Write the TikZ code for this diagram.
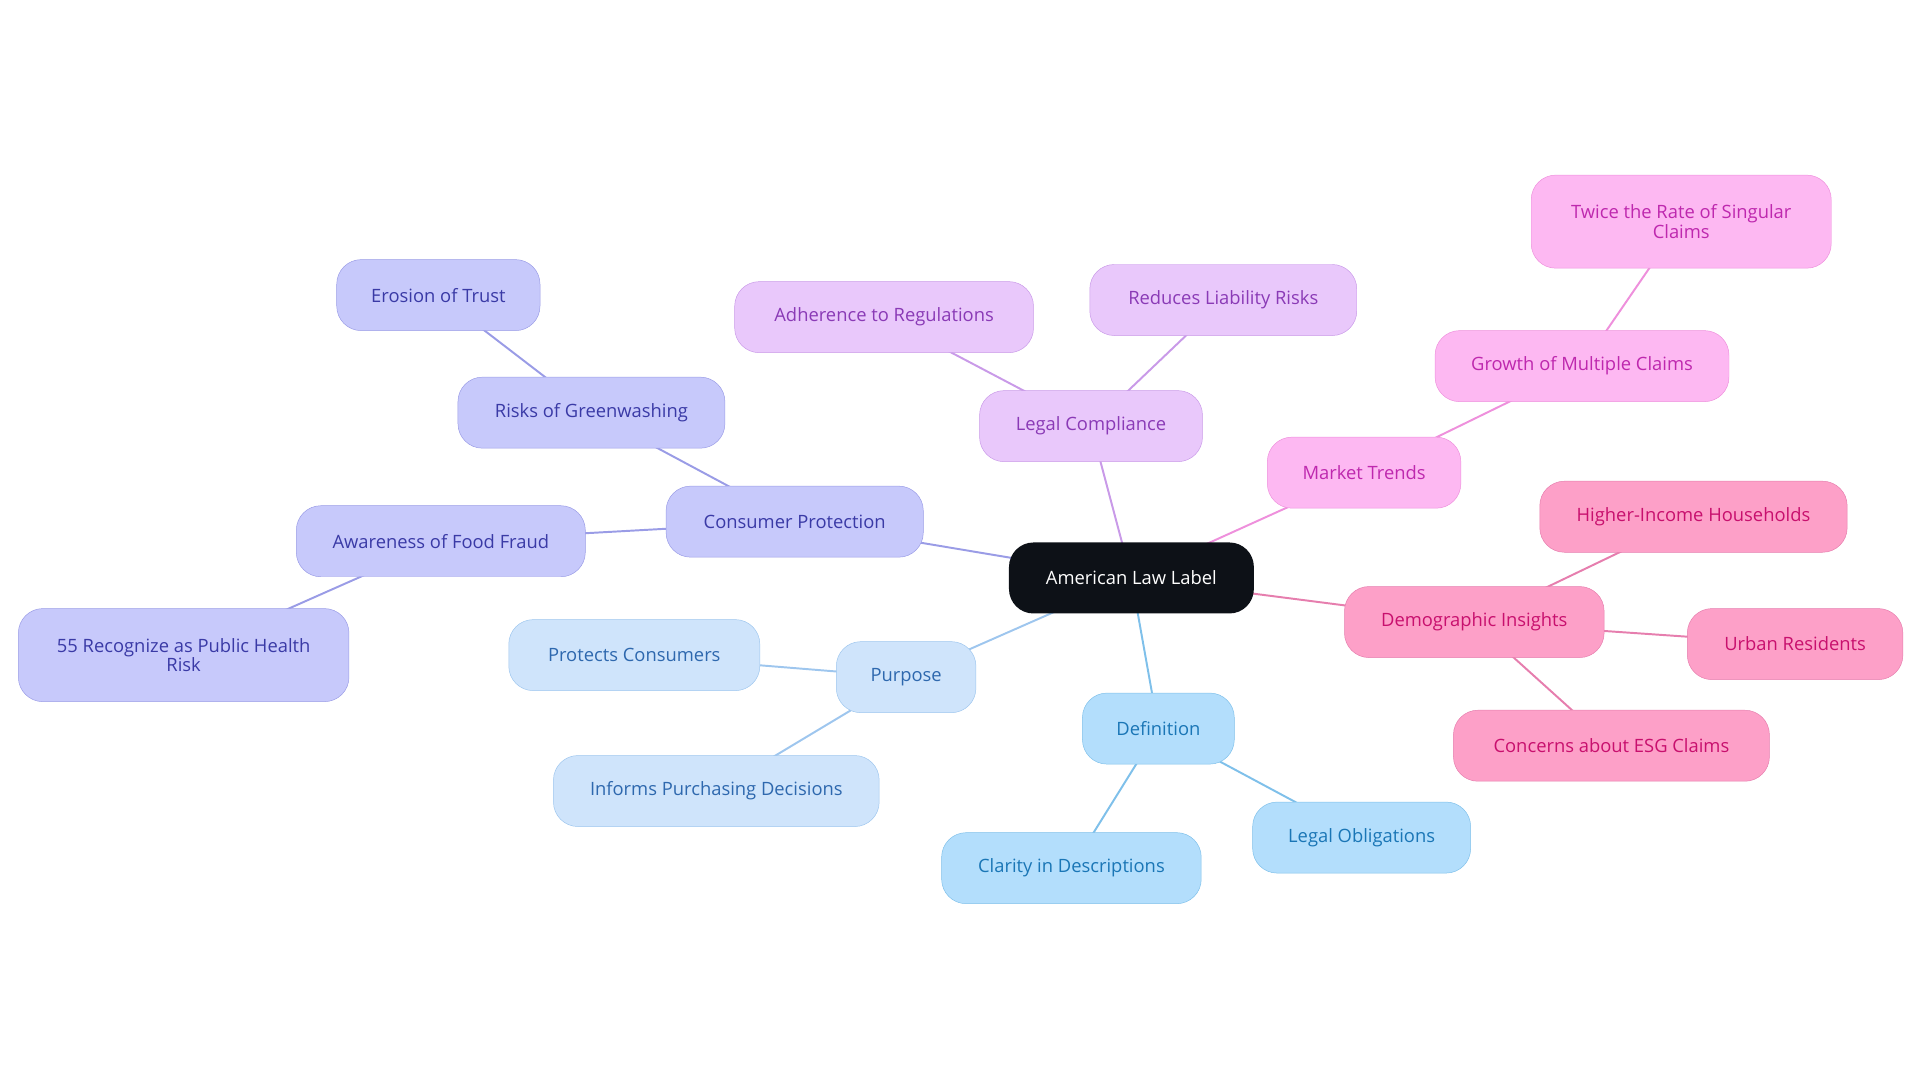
\documentclass[tikz,border=0pt]{standalone}
\usepackage{fontspec}
\setmainfont{Open Sans}
\usetikzlibrary{backgrounds}
\definecolor{rootfill}{HTML}{0D1117}
\definecolor{cpfill}{HTML}{C7C9FB}\definecolor{cpdraw}{HTML}{9A9CE6}\definecolor{cptext}{HTML}{3A3AA6}
\definecolor{pufill}{HTML}{CFE4FB}\definecolor{pudraw}{HTML}{9EC6EE}\definecolor{putext}{HTML}{2E68AE}
\definecolor{defill}{HTML}{B3DEFC}\definecolor{dedraw}{HTML}{7FC0EA}\definecolor{detext}{HTML}{1A76B6}
\definecolor{lcfill}{HTML}{E9C8FB}\definecolor{lcdraw}{HTML}{C99AE8}\definecolor{lctext}{HTML}{8A3AB6}
\definecolor{mtfill}{HTML}{FDB8F2}\definecolor{mtdraw}{HTML}{EE90DC}\definecolor{mttext}{HTML}{BE28AE}
\definecolor{difill}{HTML}{FDA0C8}\definecolor{didraw}{HTML}{E67EAE}\definecolor{ditext}{HTML}{C8106E}
\tikzset{%
  % Specifications for style of nodes:
  base/.style = {rectangle, rounded corners=20pt, minimum height=58pt,
                 text centered, align=center, font=\fontsize{15}{16}\selectfont},
  root/.style = {base, fill=rootfill, text=white},
  cpbox/.style = {base, fill=cpfill, draw=cpdraw, text=cptext},
  pubox/.style = {base, fill=pufill, draw=pudraw, text=putext},
  debox/.style = {base, fill=defill, draw=dedraw, text=detext},
  lcbox/.style = {base, fill=lcfill, draw=lcdraw, text=lctext},
  mtbox/.style = {base, fill=mtfill, draw=mtdraw, text=mttext},
  dibox/.style = {base, fill=difill, draw=didraw, text=ditext},
  edge/.style = {line width=1.6pt},
}
\begin{document}
\begin{tikzpicture}[x=1pt, y=-1pt]
  \useasboundingbox (0,0) rectangle (1568,884);
  % Specification of nodes (position, etc.)
  \node (law)       [root, minimum width=200pt]  at (924,472)  {American Law Label};

  \node (consumer)  [cpbox, minimum width=210pt] at (649,426)  {Consumer Protection};
  \node (greenwash) [cpbox, minimum width=218pt] at (483,337)  {Risks of Greenwashing};
  \node (erosion)   [cpbox, minimum width=166pt] at (358,241)  {Erosion of Trust};
  \node (fraud)     [cpbox, minimum width=236pt] at (360,442)  {Awareness of Food Fraud};
  \node (health)    [cpbox, minimum width=270pt, minimum height=76pt] at (150,535) {55 Recognize as Public Health\\Risk};

  \node (purpose)   [pubox, minimum width=114pt] at (740,553)  {Purpose};
  \node (protects)  [pubox, minimum width=205pt] at (518,535)  {Protects Consumers};
  \node (informs)   [pubox, minimum width=266pt] at (585,646)  {Informs Purchasing Decisions};

  \node (definition)[debox, minimum width=124pt] at (946,595)  {Definition};
  \node (clarity)   [debox, minimum width=212pt] at (875,709)  {Clarity in Descriptions};
  \node (obligation)[debox, minimum width=178pt] at (1112,684) {Legal Obligations};

  \node (compliance)[lcbox, minimum width=182pt] at (891,348)  {Legal Compliance};
  \node (adherence) [lcbox, minimum width=244pt] at (722,259)  {Adherence to Regulations};
  \node (liability) [lcbox, minimum width=218pt] at (999,245)  {Reduces Liability Risks};

  \node (market)    [mtbox, minimum width=158pt] at (1114,386) {Market Trends};
  \node (growth)    [mtbox, minimum width=240pt] at (1292,299) {Growth of Multiple Claims};
  \node (twice)     [mtbox, minimum width=245pt, minimum height=76pt] at (1373,181) {Twice the Rate of Singular\\Claims};

  \node (demo)      [dibox, minimum width=212pt] at (1204,508) {Demographic Insights};
  \node (income)    [dibox, minimum width=251pt] at (1383,422) {Higher-Income Households};
  \node (urban)     [dibox, minimum width=176pt] at (1466,526) {Urban Residents};
  \node (esg)       [dibox, minimum width=258pt] at (1316,609) {Concerns about ESG Claims};

  % Specification of lines between nodes specified above
  \begin{pgfonlayer}{background}
  \draw[edge, cpdraw] (law.center) -- (consumer.center);
  \draw[edge, cpdraw] (consumer.center) -- (greenwash.center);
  \draw[edge, cpdraw] (greenwash.center) -- (erosion.center);
  \draw[edge, cpdraw] (consumer.center) -- (fraud.center);
  \draw[edge, cpdraw] (fraud.center) -- (health.center);
  \draw[edge, pudraw] (law.center) -- (purpose.center);
  \draw[edge, pudraw] (purpose.center) -- (protects.center);
  \draw[edge, pudraw] (purpose.center) -- (informs.center);
  \draw[edge, dedraw] (law.center) -- (definition.center);
  \draw[edge, dedraw] (definition.center) -- (clarity.center);
  \draw[edge, dedraw] (definition.center) -- (obligation.center);
  \draw[edge, lcdraw] (law.center) -- (compliance.center);
  \draw[edge, lcdraw] (compliance.center) -- (adherence.center);
  \draw[edge, lcdraw] (compliance.center) -- (liability.center);
  \draw[edge, mtdraw] (law.center) -- (market.center);
  \draw[edge, mtdraw] (market.center) -- (growth.center);
  \draw[edge, mtdraw] (growth.center) -- (twice.center);
  \draw[edge, didraw] (law.center) -- (demo.center);
  \draw[edge, didraw] (demo.center) -- (income.center);
  \draw[edge, didraw] (demo.center) -- (urban.center);
  \draw[edge, didraw] (demo.center) -- (esg.center);
  \end{pgfonlayer}
\end{tikzpicture}
\end{document}
